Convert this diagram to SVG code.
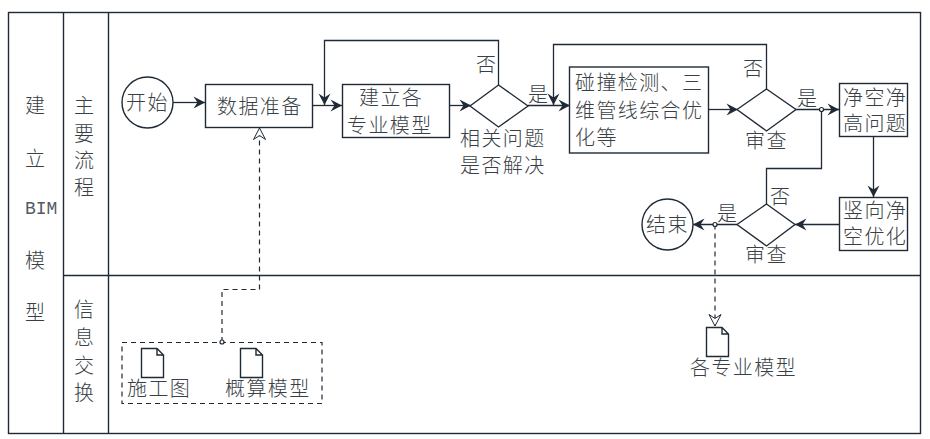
<svg xmlns="http://www.w3.org/2000/svg" width="930" height="439" viewBox="0 0 930 439">
<style>
.s{fill:#fff;stroke:#1f2a36;stroke-width:1.4}
.f{fill:none;stroke:#1f2a36;stroke-width:1.4}
.l{fill:none;stroke:#1f2a36;stroke-width:1.3}
.a{marker-end:url(#arr)}
.d{fill:none;stroke:#1f2a36;stroke-width:1.2;stroke-dasharray:5 4}
.o{fill:#fff;stroke:#1f2a36;stroke-width:1.2}
text{font-family:"Noto Sans CJK SC","Noto Sans",sans-serif;font-size:20px;font-weight:300;letter-spacing:1.4px;fill:#3a3f46}
.m{font-family:"Liberation Mono",monospace;font-size:18px;letter-spacing:0;fill:#555a60}
</style>
<defs>
<marker id="arr" markerUnits="userSpaceOnUse" markerWidth="14" markerHeight="14" refX="12" refY="7" orient="auto" overflow="visible"><path d="M12,7 L0.500,1 L4.500,7 L0.500,13 Z" fill="#1f2a36"/></marker>
<marker id="oarr" markerUnits="userSpaceOnUse" markerWidth="14" markerHeight="14" refX="12" refY="7" orient="auto" overflow="visible"><path d="M12,7 L0.500,1 L4.500,7 L0.500,13 Z" fill="#fff" stroke="#1f2a36" stroke-width="1"/></marker>
</defs>
<rect width="930" height="439" fill="#fff"/>
<g id="frame">
<rect class="f" x="8.500" y="12.500" width="912" height="421"/>
<path class="f" d="M63.500,12.500V433.500M108.500,12.500V433.500M63.500,275.500H920.500"/>
<text x="25" y="113">建</text><text x="25" y="166">立</text><text class="m" x="25" y="214">BIM</text><text x="25" y="268">模</text><text x="25" y="320">型</text>
<text x="74" y="113">主</text><text x="74" y="140.500">要</text><text x="74" y="167.500">流</text><text x="74" y="195">程</text>
<text x="74" y="317">信</text><text x="74" y="345">息</text><text x="74" y="372.500">交</text><text x="74" y="400">换</text>
</g>
<g id="connectors">
<path class="l a" d="M173,102.500H205"/>
<path class="l a" d="M312,105.500H342"/>
<path class="l a" d="M449,105.500H471"/>
<path class="l a" d="M498.500,85V40.500H324.500V105"/>
<path class="l a" d="M528,105.500H570"/>
<path class="l a" d="M766.500,89V44.500H553.500V105"/>
<path class="l a" d="M708,109.500H738"/>
<path class="l a" d="M796,109.500H839"/>
<path class="l" d="M766.500,204V168.500H821.500V109.500"/>
<path class="l a" d="M873.500,137V197"/>
<path class="l a" d="M839,224.500H795"/>
<path class="l a" d="M737,224.500H693"/>
<path class="d" style="marker-end:url(#oarr)" d="M222,342V289.500H259.500V128"/>
<path class="d" style="marker-end:url(#oarr)" d="M715,224.500V326"/>
<circle class="o" cx="821.500" cy="109.500" r="2"/>
<circle class="o" cx="715" cy="224.500" r="2"/>
</g>
<g id="start"><circle class="s" cx="147.500" cy="102.500" r="25.500"/><text x="126" y="110">开始</text></g>
<g id="prep"><rect class="s" x="205.500" y="84.500" width="107" height="43"/><text x="217" y="114">数据准备</text></g>
<g id="model"><rect class="s" x="342.500" y="84.500" width="107" height="53"/><text x="359" y="104.500">建立各</text><text x="347" y="132.500">专业模型</text></g>
<g id="decision1"><polygon class="s" points="470,106 498.500,85 528,106 498.500,127"/><text x="476" y="72">否</text><text x="528" y="102">是</text><text x="460" y="146">相关问题</text><text x="460" y="173">是否解决</text></g>
<g id="clash"><rect class="s" x="569.500" y="67" width="139" height="86"/><text x="575" y="89.500">碰撞检测、三</text><text x="575" y="117.500">维管线综合优</text><text x="575" y="144.500">化等</text></g>
<g id="review1"><polygon class="s" points="737,109.500 766.500,89 796,109.500 766.500,131"/><text x="743" y="76">否</text><text x="797" y="106">是</text><text x="745" y="148">审查</text></g>
<g id="clearance"><rect class="s" x="839.500" y="83.500" width="68" height="53"/><text x="843" y="104.500">净空净</text><text x="843" y="131">高问题</text></g>
<g id="vertical"><rect class="s" x="839.500" y="197.500" width="68" height="53"/><text x="843" y="217.500">竖向净</text><text x="843" y="244">空优化</text></g>
<g id="review2"><polygon class="s" points="737,224.500 766.500,204 795,224.500 766.500,246"/><text x="770" y="203.500">否</text><text x="717" y="221">是</text><text x="745" y="262">审查</text></g>
<g id="end"><circle class="s" cx="667.500" cy="224.500" r="25.500"/><text x="646" y="232">结束</text></g>
<g id="inputs"><rect class="d" x="122" y="342.500" width="200" height="61"/><circle class="o" cx="222" cy="342" r="2"/>
<path class="s" d="M141.500,348.500H157L163.500,355V377.500H141.500Z M157,348.500V355H163.500"/><text x="127" y="396">施工图</text>
<path class="s" d="M240.500,348.500H256L262.500,355V377.500H240.500Z M256,348.500V355H262.500"/><text x="225" y="396">概算模型</text></g>
<g id="outputs"><path class="s" d="M706.500,327.500H722L728.500,334V356.500H706.500Z M722,327.500V334H728.500"/><text x="690" y="375">各专业模型</text></g>
</svg>
